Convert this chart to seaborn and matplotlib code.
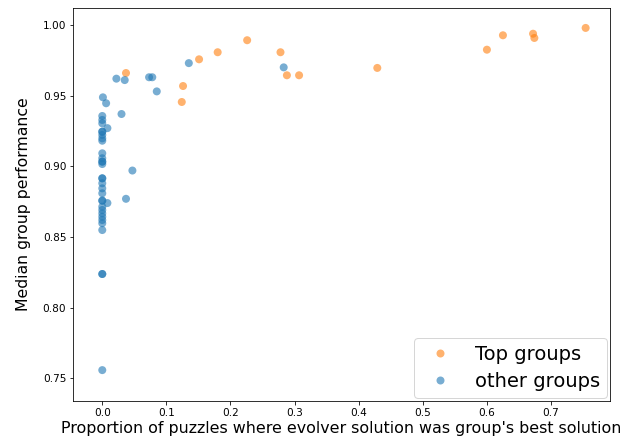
import matplotlib
matplotlib.use("Agg")
import matplotlib.pyplot as plt
import numpy as np
import pandas as pd
import seaborn as sns

# Top groups: proportion of puzzles where evolver solution was best, median performance
top_x = [0.037, 0.124, 0.126, 0.151, 0.180, 0.226, 0.278, 0.288, 0.307,
         0.429, 0.600, 0.625, 0.672, 0.674, 0.754]
top_y = [0.966, 0.9455, 0.9568, 0.9757, 0.9807, 0.9892, 0.9807, 0.9644, 0.9644,
         0.9696, 0.9825, 0.9927, 0.9938, 0.9908, 0.9979]

# Other groups
other_x = [0.001, 0.006, 0.0, 0.0, 0.0, 0.0, 0.0, 0.0, 0.0, 0.0, 0.0, 0.0,
           0.0, 0.0, 0.0, 0.0, 0.0, 0.0, 0.0, 0.0, 0.0, 0.0, 0.0, 0.0, 0.0,
           0.0, 0.0, 0.0, 0.0, 0.0, 0.0, 0.0,
           0.008, 0.008, 0.047, 0.037, 0.030, 0.022, 0.035, 0.073, 0.078,
           0.085, 0.135, 0.283]
other_y = [0.9488, 0.9446, 0.9356, 0.9328, 0.9304, 0.9245, 0.9245, 0.9222,
           0.9198, 0.9181, 0.9092, 0.9057, 0.9033, 0.9033, 0.9016, 0.8915,
           0.8915, 0.8880, 0.8844, 0.8809, 0.8757, 0.8757, 0.8714, 0.8691,
           0.8667, 0.8643, 0.8620, 0.8597, 0.8549, 0.8238, 0.8238, 0.7558,
           0.927, 0.874, 0.897, 0.877, 0.937, 0.962, 0.961, 0.963, 0.963,
           0.953, 0.973, 0.970]

groups = ["Top groups", "other groups"]
colors = ["tab:orange", "tab:blue"]

df = pd.DataFrame({
    "x": top_x + other_x,
    "y": top_y + other_y,
    "group": [groups[0]] * len(top_x) + [groups[1]] * len(other_x),
})

fig = plt.figure(figsize=(621 / 72, 447 / 72), dpi=72)
ax = fig.add_axes([73.3 / 621, (447 - 400.5) / 447, (610 - 73.3) / 621, (400.5 - 8) / 447])

sns.scatterplot(data=df, x="x", y="y", hue="group", hue_order=groups,
                palette=dict(zip(groups, colors)), s=64, alpha=0.6,
                linewidth=0, ax=ax)

ax.set_xlim(-0.0452, 0.792)
ax.set_ylim(0.7343, 1.012)
ax.set_xticks(np.arange(0.0, 0.71, 0.1))
ax.set_yticks(np.arange(0.75, 1.001, 0.05))
ax.set_yticklabels([f"{v:.2f}" for v in np.arange(0.75, 1.001, 0.05)])
ax.tick_params(labelsize=10.5)
ax.set_xlabel("Proportion of puzzles where evolver solution was group's best solution",
              fontsize=15.9)
ax.set_ylabel("Median group performance", fontsize=15.8, labelpad=12)

ax.legend(loc="lower right", fontsize=19.5, borderpad=0.35, labelspacing=0.4,
          borderaxespad=0.15, handletextpad=0.8)

fig.savefig("out.png", dpi=72)
